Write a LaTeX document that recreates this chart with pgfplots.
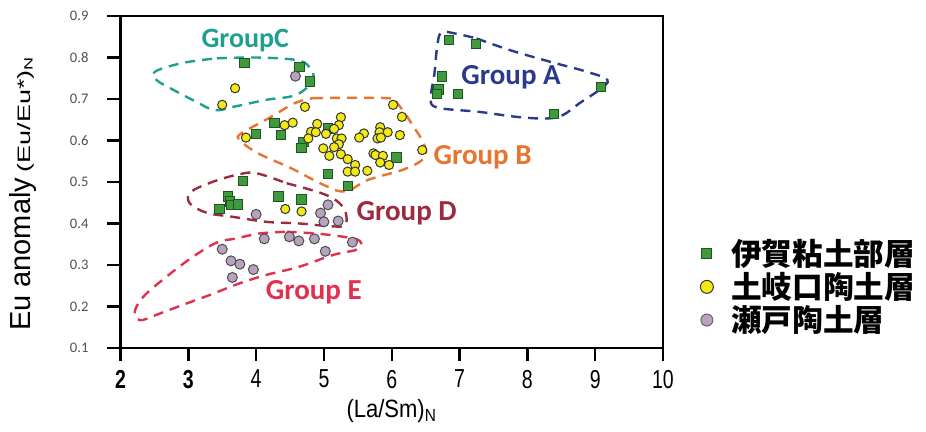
\documentclass[border=0pt]{standalone}
\usepackage{fontspec}
\usepackage{pgfplots}
\pgfplotsset{compat=1.18}
\usepackage{pgfplotstable}
\setmainfont{Liberation Sans}
\newfontfamily\carl{Carlito}
\newfontfamily\narrow[FakeStretch=0.75]{Liberation Sans}
\newfontfamily\narrowx[FakeStretch=0.88]{Liberation Sans}
\newfontfamily\wide[FakeStretch=1.5]{Liberation Sans}
\newfontfamily\cjk{Noto Sans CJK JP}
\definecolor{cC}{HTML}{1FA08E}
\definecolor{cA}{HTML}{2B3A8C}
\definecolor{cB}{HTML}{E8742E}
\definecolor{cD}{HTML}{9E2A40}
\definecolor{cE}{HTML}{E2304E}
\definecolor{sqfill}{HTML}{3E9A3A}
\definecolor{sqdraw}{HTML}{1F5520}
\definecolor{yfill}{HTML}{F2EA12}
\definecolor{gfill}{HTML}{B7A3BD}
\definecolor{tickgray}{HTML}{505050}

\pgfplotstableread{
x y
3.83 0.787
4.64 0.778
4.79 0.742
6.85 0.842
7.24 0.833
6.74 0.754
6.69 0.723
6.67 0.712
6.98 0.712
9.09 0.728
8.39 0.664
4.27 0.643
4.00 0.615
4.37 0.613
5.06 0.629
4.70 0.597
4.67 0.581
6.07 0.559
5.06 0.519
5.35 0.491
3.81 0.503
3.58 0.465
3.61 0.453
3.63 0.445
3.73 0.446
3.46 0.434
4.33 0.465
4.67 0.458
}\iga

\pgfplotstableread{
x y
3.69 0.726
3.50 0.686
4.72 0.681
6.02 0.686
6.15 0.657
5.25 0.656
4.42 0.637
4.54 0.643
4.90 0.640
5.22 0.637
5.15 0.628
5.83 0.632
4.81 0.621
4.88 0.620
5.03 0.616
4.77 0.605
5.19 0.605
5.26 0.605
5.59 0.617
5.52 0.607
5.82 0.620
5.94 0.620
5.79 0.605
5.84 0.607
6.12 0.613
3.85 0.607
5.22 0.591
5.15 0.584
4.99 0.581
5.08 0.563
5.25 0.567
5.35 0.555
5.73 0.569
5.76 0.565
5.87 0.563
5.83 0.547
5.46 0.541
5.96 0.541
5.35 0.525
5.46 0.525
5.64 0.527
6.45 0.577
4.43 0.435
4.67 0.429
}\toki

\pgfplotstableread{
x y
4.58 0.755
4.00 0.422
5.06 0.445
4.95 0.425
5.00 0.404
5.21 0.406
4.12 0.363
4.49 0.368
4.63 0.358
4.86 0.363
5.42 0.355
5.02 0.333
3.50 0.338
3.63 0.310
3.76 0.302
3.96 0.289
3.65 0.270
}\seto

\begin{document}
\begin{tikzpicture}
\path[use as bounding box] (-60.25pt,-42pt) rectangle (402.75pt,174pt);
\begin{axis}[
  scale only axis, width=271.25pt, height=166pt,
  xmin=2, xmax=10, ymin=0.1, ymax=0.9,
  xtick={2,3,4,5,6,7,8,9,10},
  xticklabels={\textbf{2},\textbf{3},4,5,6,7,8,9,10},
  ytick={0.1,0.2,0.3,0.4,0.5,0.6,0.7,0.8,0.9},
  yticklabels={0.1,0.2,0.3,0.4,0.5,0.6,0.7,0.8,0.9},
  xtick pos=left, ytick pos=left,
  tick align=outside, major tick length=6.5pt,
  every tick/.style={line width=1.2pt, black},
  axis line style={line width=0.9pt},
  x tick label style={font=\narrow\fontsize{13}{13}\selectfont, yshift=-1pt},
  y tick label style={font=\carl\fontsize{7.3}{8}\selectfont, text=tickgray, xshift=-6pt},
  xlabel={\narrowx\fontsize{12.5}{13}\selectfont (La/Sm)\textsubscript{N}},
  xlabel style={at={(axis description cs:0.5,-0.19)}, anchor=center},
  ylabel={{\fontsize{14.5}{15}\selectfont Eu anomaly} {\wide\fontsize{9}{10}\selectfont (Eu/Eu*)\textsubscript{N}}},
  ylabel style={at={(axis description cs:-0.1797,0.465)}, anchor=center},
  clip=false,
  legend style={draw=none, fill=none, at={(rel axis cs:1,0)}, anchor=south west,
    xshift=18.5pt, yshift=5.5pt, inner sep=0pt, row sep=0pt,
    nodes={inner sep=1pt},
    font=\cjk\bfseries\fontsize{15.3}{17}\selectfont, cells={anchor=west}},
  envelope/.style={line width=1.2pt, dash pattern=on 5pt off 3.5pt, smooth, tension=0.6, forget plot},
]
\draw[line width=1.4pt] (rel axis cs:0,0) -- (rel axis cs:0,1);
% Group C
\addplot[cC, envelope] coordinates {
(3.42,0.798) (4.01,0.800) (4.59,0.794) (4.78,0.778) (4.84,0.746)
(4.59,0.710) (4.15,0.698) (3.66,0.681) (3.39,0.673) (3.12,0.693) (2.78,0.722) (2.53,0.746)
(2.51,0.766) (2.92,0.787) (3.42,0.798)};
% Group A
\addplot[cA, envelope] coordinates {
(7.25,0.846) (7.74,0.818) (8.33,0.790) (8.87,0.766) (9.18,0.746)
(9.06,0.722) (8.77,0.690) (8.52,0.661) (8.28,0.653) (7.84,0.657) (7.29,0.669) (6.66,0.680)
(6.58,0.706) (6.63,0.762) (6.67,0.826) (6.73,0.860) (6.93,0.858) (7.25,0.846)};
% Group B
\addplot[cB, envelope] coordinates {
(4.84,0.702) (5.94,0.702) (6.09,0.688) (6.34,0.629) (6.48,0.589) (6.48,0.558) (6.19,0.531)
(5.65,0.505) (5.31,0.477) (4.97,0.495) (4.52,0.533) (4.03,0.569) (3.76,0.601) (3.78,0.617)
(4.18,0.653) (4.57,0.690) (4.84,0.702)};
% Group D
\addplot[cD, envelope] coordinates {
(4.45,0.497) (4.89,0.477) (5.13,0.461)
(5.28,0.440) (5.33,0.420) (5.31,0.396) (5.13,0.393) (4.64,0.400) (4.15,0.404) (3.66,0.416)
(3.27,0.426) (3.02,0.449) (3.04,0.476) (3.37,0.501) (3.76,0.519) (4.01,0.521) (4.45,0.497)};
% Group E
\addplot[cE, envelope] coordinates {
(4.45,0.380) (4.94,0.375) (5.43,0.364) (5.55,0.353)
(5.48,0.337) (5.13,0.324) (4.64,0.296) (4.15,0.276) (3.76,0.256) (3.32,0.228) (2.92,0.204)
(2.53,0.180) (2.29,0.167) (2.21,0.187) (2.34,0.224) (2.68,0.272) (3.07,0.320)
(3.42,0.354) (3.71,0.364) (4.05,0.376) (4.45,0.380)};
% data
\addplot[only marks, mark=square*, mark size=2.3pt, mark options={fill=sqfill, draw=sqdraw, line width=0.5pt}, forget plot] table[x=x,y=y] {\iga};
\addplot[only marks, mark=*, mark size=2.3pt, mark options={fill=yfill, draw=black!80, line width=0.5pt}, forget plot] table[x=x,y=y] {\toki};
\addplot[only marks, mark=*, mark size=2.5pt, mark options={fill=gfill, draw=black!70, line width=0.5pt}, forget plot] table[x=x,y=y] {\seto};
% legend
\addlegendimage{only marks, mark=square*, mark size=2.5pt, mark options={fill=sqfill, draw=sqdraw, line width=0.5pt}}
\addlegendentry{\hspace{8pt}伊賀粘土部層}
\addlegendimage{only marks, mark=*, mark size=3.25pt, mark options={fill=yfill, draw=black!80, line width=0.5pt}}
\addlegendentry{\hspace{8pt}土岐口陶土層}
\addlegendimage{only marks, mark=*, mark size=3pt, mark options={fill=gfill, draw=black!60, line width=0.5pt}}
\addlegendentry{\hspace{8pt}瀬戸陶土層}
% group labels
\node[font=\carl\bfseries\fontsize{14}{14}\selectfont, text=cC] at (axis cs:3.84,0.841) {GroupC};
\node[font=\carl\bfseries\fontsize{14.5}{14.5}\selectfont, text=cA] at (axis cs:7.76,0.753) {Group A};
\node[font=\carl\bfseries\fontsize{14.5}{14.5}\selectfont, text=cB] at (axis cs:7.34,0.560) {Group B};
\node[font=\carl\bfseries\fontsize{14.5}{14.5}\selectfont, text=cD] at (axis cs:6.22,0.425) {Group D};
\node[font=\carl\bfseries\fontsize{14.5}{14.5}\selectfont, text=cE] at (axis cs:4.85,0.235) {Group E};
\end{axis}
\end{tikzpicture}
\end{document}
